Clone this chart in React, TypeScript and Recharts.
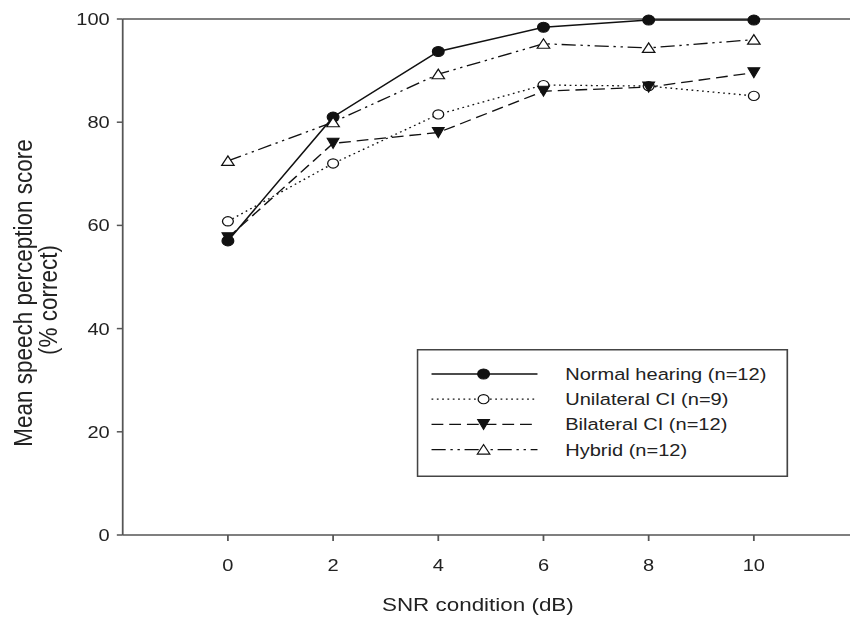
import React from "react";
import {
  LineChart,
  Line,
  XAxis,
  YAxis,
  Label,
  Legend,
  ReferenceLine,
} from "recharts";

// SNR conditions (dB)
const snrLevels = [0, 2, 4, 6, 8, 10];
const xTicks = [0, 2, 4, 6, 8, 10];
const yTicks = [0, 20, 40, 60, 80, 100];

// mean % correct per group
const normalHearing = [57, 81, 93.7, 98.4, 99.8, 99.8];
const unilateralCI = [60.8, 72, 81.5, 87.2, 87, 85.1];
const bilateralCI = [57.6, 75.9, 78, 86, 86.8, 89.6];
const hybrid = [72.5, 80, 89.3, 95.2, 94.4, 96];

const FONT = '"Liberation Sans", Arial, sans-serif';
const INK = "#111";
const AXIS = "#555";
// the reference is horizontally stretched
const STRETCH = 1.18;

const series = [
  { key: "normal", name: "Normal hearing (n=12)", values: normalHearing, dash: undefined, marker: "filledCircle", width: 1.4 },
  { key: "unilateral", name: "Unilateral CI (n=9)", values: unilateralCI, dash: "1.5 3", marker: "openCircle", width: 1.3 },
  { key: "bilateral", name: "Bilateral CI (n=12)", values: bilateralCI, dash: "10 5", marker: "downTriangle", width: 1.3 },
  { key: "hybrid", name: "Hybrid (n=12)", values: hybrid, dash: "12 4 2 4 2 4", marker: "upTriangle", width: 1.3 },
];

const data = snrLevels.map((snr, i) => {
  const row: Record<string, number> = { snr };
  series.forEach((s) => {
    row[s.key] = s.values[i];
  });
  return row;
});

function Marker({ type, cx, cy }: { type: string; cx: number; cy: number }) {
  if (cx == null || cy == null) return null;
  switch (type) {
    case "filledCircle":
      return <circle cx={cx} cy={cy} r={5} fill={INK} stroke={INK} />;
    case "openCircle":
      return <circle cx={cx} cy={cy} r={4.6} fill="#fff" stroke={INK} strokeWidth={1.1} />;
    case "downTriangle":
      return (
        <polygon
          points={`${cx - 5},${cy - 5} ${cx + 5},${cy - 5} ${cx},${cy + 5}`}
          fill={INK}
          stroke={INK}
        />
      );
    default:
      return (
        <polygon
          points={`${cx - 5.3},${cy + 4.5} ${cx + 5.3},${cy + 4.5} ${cx},${cy - 5}`}
          fill="#fff"
          stroke={INK}
          strokeWidth={1.1}
        />
      );
  }
}

function LegendBox() {
  return (
    <svg width={315} height={128} style={{ display: "block" }}>
      <rect x={0.75} y={0.75} width={313.5} height={126.5} fill="#fff" stroke="#444" strokeWidth={1.5} />
      {series.map((s, i) => {
        const y = 25 + i * 25.2;
        return (
          <g key={s.key}>
            <line x1={12.7} x2={102.5} y1={y} y2={y} stroke={INK} strokeWidth={s.width} strokeDasharray={s.dash} />
            <Marker type={s.marker} cx={56.8} cy={y} />
            <text x={126} y={y} dominantBaseline="central" fontSize={17} fill="#222" fontFamily={FONT}>
              {s.name}
            </text>
          </g>
        );
      })}
    </svg>
  );
}

function YTitle() {
  return (
    <g fontFamily={FONT} fontSize={22.5} fill="#222" textAnchor="middle">
      <text x={19.5} y={293} dominantBaseline="central" transform="rotate(-90 19.5 293)">
        Mean speech perception score
      </text>
      <text x={40.5} y={300} dominantBaseline="central" transform="rotate(-90 40.5 300)">
        (% correct)
      </text>
    </g>
  );
}

function XTitle() {
  return (
    <text x={405} y={604} dominantBaseline="central" textAnchor="middle" fontFamily={FONT} fontSize={19} fill="#222">
      SNR condition (dB)
    </text>
  );
}

export default function App() {
  return (
    <div style={{ position: "absolute", left: 0, top: 0, width: 850, height: 618, overflow: "hidden", background: "#fff" }}>
      <div style={{ transform: `scaleX(${STRETCH})`, transformOrigin: "0 0", width: 740 }}>
        <LineChart
          width={740}
          height={618}
          data={data}
          margin={{ top: 19, right: 12, left: 0, bottom: 0 }}
          style={{ fontFamily: FONT }}
        >
          <XAxis
            dataKey="snr"
            type="number"
            domain={[-2, 12]}
            ticks={xTicks}
            allowDataOverflow
            height={83}
            tickSize={6}
            tickMargin={18}
            stroke={AXIS}
            strokeWidth={1.5}
            tick={{ fill: "#222", fontSize: 17 }}
          >
            <Label content={() => <XTitle />} />
          </XAxis>
          <YAxis
            type="number"
            domain={[0, 100]}
            ticks={yTicks}
            width={104}
            tickSize={5}
            tickMargin={6}
            stroke={AXIS}
            strokeWidth={1.5}
            tick={{ fill: "#222", fontSize: 17 }}
          >
            <Label content={() => <YTitle />} />
          </YAxis>
          <ReferenceLine y={100} stroke={AXIS} strokeWidth={1.5} />
          {series.map((s) => (
            <Line
              key={s.key}
              dataKey={s.key}
              name={s.name}
              stroke={INK}
              strokeWidth={s.width}
              strokeDasharray={s.dash}
              isAnimationActive={false}
              dot={(p: any) => <Marker key={`${s.key}-${p.index}`} type={s.marker} cx={p.cx} cy={p.cy} />}
              activeDot={false}
            />
          ))}
          <Legend
            layout="vertical"
            align="center"
            verticalAlign="middle"
            content={() => <LegendBox />}
            wrapperStyle={{ position: "absolute", left: 352.5, top: 349, width: 315, height: 128 }}
          />
        </LineChart>
      </div>
    </div>
  );
}
